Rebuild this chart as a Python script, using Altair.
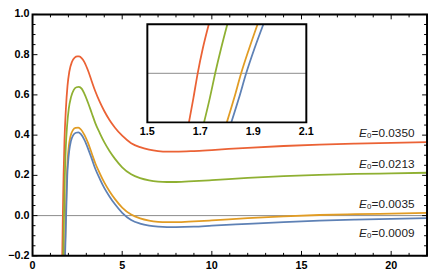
import altair as alt
import pandas as pd

# ---- data ----
series_names = ["E0=0.0350", "E0=0.0213", "E0=0.0035", "E0=0.0009"]
series_colors = ["#EB6235", "#8FB032", "#E19C24", "#5E81B5"]

red_x = [1.62, 1.657, 1.674, 1.69, 1.709, 1.732, 1.78, 1.86, 1.95, 2.05, 2.2, 2.35, 2.5, 2.6, 2.75, 2.9, 3.1,
         3.3, 3.5, 3.75, 4.0, 4.3, 4.6, 5.0, 5.5, 6.0, 6.5, 7.0, 7.5, 8.0, 9.0, 10, 12, 14, 16, 18, 20, 22]
red_y = [-0.45, -0.2, -0.1, 0.0, 0.1, 0.2, 0.37, 0.53, 0.645, 0.715, 0.765, 0.785, 0.791, 0.791, 0.782, 0.762,
         0.72, 0.668, 0.618, 0.565, 0.52, 0.474, 0.437, 0.397, 0.36, 0.34, 0.328, 0.321, 0.318, 0.318, 0.321,
         0.326, 0.337, 0.346, 0.353, 0.358, 0.362, 0.365]

green_x = [1.68, 1.714, 1.736, 1.756, 1.778, 1.802, 1.85, 1.93, 2.02, 2.15, 2.3, 2.45, 2.58, 2.75, 2.9, 3.1,
           3.3, 3.5, 3.75, 4.0, 4.3, 4.6, 5.0, 5.5, 6.0, 6.5, 7.0, 7.5, 8.0, 9.0, 10, 12, 14, 16, 18, 20, 22]
green_y = [-0.45, -0.2, -0.1, 0.0, 0.1, 0.2, 0.33, 0.45, 0.53, 0.59, 0.625, 0.638, 0.64, 0.63, 0.604, 0.56,
           0.51, 0.46, 0.41, 0.365, 0.32, 0.282, 0.24, 0.205, 0.186, 0.175, 0.169, 0.167, 0.167, 0.171, 0.176,
           0.187, 0.196, 0.203, 0.207, 0.21, 0.213]

orange_x = [1.76, 1.8, 1.828, 1.854, 1.884, 1.916, 1.96, 2.03, 2.12, 2.25, 2.4, 2.55, 2.7, 2.9, 3.1, 3.3, 3.5,
            3.75, 4.0, 4.3, 4.6, 5.0, 5.5, 6.0, 6.5, 7.0, 7.5, 8.0, 9.0, 10, 12, 14, 16, 18, 20, 22]
orange_y = [-0.45, -0.2, -0.1, 0.0, 0.1, 0.2, 0.28, 0.35, 0.395, 0.425, 0.436, 0.437, 0.428, 0.4, 0.36, 0.31,
            0.26, 0.21, 0.165, 0.12, 0.082, 0.04, 0.005, -0.014, -0.025, -0.031, -0.033, -0.033, -0.029,
            -0.024, -0.013, -0.004, 0.003, 0.007, 0.01, 0.013]

blue_x = [1.78, 1.817, 1.846, 1.873, 1.904, 1.938, 1.98, 2.05, 2.14, 2.27, 2.42, 2.56, 2.7, 2.9, 3.1, 3.3, 3.5,
          3.75, 4.0, 4.3, 4.6, 5.0, 5.5, 6.0, 6.5, 7.0, 7.5, 8.0, 9.0, 10, 12, 14, 16, 18, 20, 22]
blue_y = [-0.45, -0.2, -0.1, 0.0, 0.1, 0.2, 0.26, 0.325, 0.37, 0.4, 0.412, 0.414, 0.405, 0.375, 0.332, 0.283,
          0.233, 0.183, 0.138, 0.094, 0.056, 0.014, -0.022, -0.04, -0.05, -0.055, -0.057, -0.057, -0.055,
          -0.05, -0.041, -0.032, -0.025, -0.02, -0.016, -0.013]

x_major = [0, 5, 10, 15, 20]
x_major_labels = ["0", "5", "10", "15", "20"]
x_minor = [1, 2, 3, 4, 6, 7, 8, 9, 11, 12, 13, 14, 16, 17, 18, 19, 21]
y_major = [-0.2, 0.0, 0.2, 0.4, 0.6, 0.8, 1.0]
y_major_labels = ["\u22120.2", "0.0", "0.2", "0.4", "0.6", "0.8", "1.0"]
y_minor = [-0.15, -0.1, -0.05, 0.05, 0.1, 0.15, 0.25, 0.3, 0.35, 0.45, 0.5, 0.55, 0.65, 0.7, 0.75,
           0.85, 0.9, 0.95]
inset_ticks = [1.5, 1.7, 1.9, 2.1]
inset_tick_labels = ["1.5", "1.7", "1.9", "2.1"]

label_values = ["=0.0350", "=0.0213", "=0.0035", "=0.0009"]
label_x = [21.3, 21.3, 21.3, 21.3]
label_y = [0.408, 0.257, 0.057, -0.086]

# ---- build tables ----
rows = []
for name, xs, ys in zip(series_names, [red_x, green_x, orange_x, blue_x], [red_y, green_y, orange_y, blue_y]):
    rows += [{"series": name, "x": a, "y": b} for a, b in zip(xs, ys)]
df = pd.DataFrame(rows)

W, H = 402, 246
FONT = "Liberation Sans"
LW = 1.8

xs_main = alt.Scale(domain=[0, 22], nice=False, zero=False)
ys_main = alt.Scale(domain=[-0.2, 1.0], nice=False, zero=False)
color_scale = alt.Scale(domain=series_names, range=series_colors)

zero_line = alt.Chart(pd.DataFrame({"x": [0], "x2": [22], "y": [0.0]})).mark_rule(
    color="#8a8a8a", strokeWidth=1).encode(
    x=alt.X("x:Q", scale=xs_main, axis=None), x2="x2:Q",
    y=alt.Y("y:Q", scale=ys_main, axis=None))

curves = alt.Chart(df).mark_line(clip=True, strokeWidth=LW, interpolate="monotone").encode(
    x=alt.X("x:Q", scale=xs_main, axis=None),
    y=alt.Y("y:Q", scale=ys_main, axis=None),
    color=alt.Color("series:N", scale=color_scale, legend=None),
)

frame = alt.Chart(pd.DataFrame({"x": [0], "x2": [22], "y": [-0.2], "y2": [1.0]})).mark_rect(
    fillOpacity=0, stroke="black", strokeWidth=2).encode(
    x=alt.X("x:Q", scale=xs_main, axis=None), x2="x2:Q",
    y=alt.Y("y:Q", scale=ys_main, axis=None), y2="y2:Q")


def xticks(vals, length, top):
    d = pd.DataFrame({"x": vals})
    if top:
        yy, yy2 = alt.value(0), alt.value(length)
    else:
        yy, yy2 = alt.value(H), alt.value(H - length)
    return alt.Chart(d).mark_rule(color="black", strokeWidth=1).encode(
        x=alt.X("x:Q", scale=xs_main, axis=None), y=yy, y2=yy2)


def yticks(vals, length, right):
    d = pd.DataFrame({"y": vals})
    if right:
        xx, xx2 = alt.value(W), alt.value(W - length)
    else:
        xx, xx2 = alt.value(0), alt.value(length)
    return alt.Chart(d).mark_rule(color="black", strokeWidth=1).encode(
        y=alt.Y("y:Q", scale=ys_main, axis=None), x=xx, x2=xx2)


tick_layers = [xticks(x_major, 5, False), xticks(x_minor, 3, False),
               xticks(x_major, 5, True), xticks(x_minor, 3, True),
               yticks(y_major, 5, False), yticks(y_minor, 3, False),
               yticks(y_major, 5, True), yticks(y_minor, 3, True)]

xlab = alt.Chart(pd.DataFrame({"x": x_major, "t": x_major_labels})).mark_text(
    baseline="top", align="center", font=FONT, fontSize=11, fontWeight="bold", color="black").encode(
    x=alt.X("x:Q", scale=xs_main, axis=None), y=alt.value(H + 4), text="t:N")
ylab = alt.Chart(pd.DataFrame({"y": y_major, "t": y_major_labels})).mark_text(
    baseline="middle", align="right", font=FONT, fontSize=11, fontWeight="bold", color="black").encode(
    y=alt.Y("y:Q", scale=ys_main, axis=None), x=alt.value(-3), text="t:N")

lab_df = pd.DataFrame({"x": label_x, "y": label_y, "val": label_values,
                       "sub": ["0"] * 4, "E": ["E"] * 4})
lab_enc = dict(x=alt.X("x:Q", scale=xs_main, axis=None), y=alt.Y("y:Q", scale=ys_main, axis=None))
lab_val = alt.Chart(lab_df).mark_text(align="right", baseline="middle", font=FONT, fontSize=12,
                                      color="#222").encode(text="val:N", **lab_enc)
lab_sub = alt.Chart(lab_df).mark_text(align="right", baseline="middle", font=FONT, fontSize=8,
                                      dx=-44, dy=3, color="#222").encode(text="sub:N", **lab_enc)
lab_E = alt.Chart(lab_df).mark_text(align="right", baseline="middle", font=FONT, fontSize=12,
                                    fontStyle="italic", dx=-48.5, color="#222").encode(text="E:N", **lab_enc)

main = alt.layer(zero_line, curves, frame, *tick_layers, xlab, ylab, lab_val, lab_sub, lab_E)

# ---- inset ----
IN_L, IN_R, IN_T, IN_B = 117, 279, 10, 110
ins_x = alt.Scale(domain=[1.5, 2.1], range=[IN_L, IN_R], nice=False, zero=False)
ins_y = alt.Scale(domain=[-0.2, 0.2], range=[IN_B, IN_T], nice=False, zero=False)
box_df = pd.DataFrame({"x": [1.5], "x2": [2.1], "y": [-0.2], "y2": [0.2]})

inset_fill = alt.Chart(box_df).mark_rect(fill="white").encode(
    x=alt.X("x:Q", scale=ins_x, axis=None), x2="x2:Q",
    y=alt.Y("y:Q", scale=ins_y, axis=None), y2="y2:Q")
inset_zero = alt.Chart(pd.DataFrame({"x": [1.5], "x2": [2.1], "y": [0.0]})).mark_rule(
    color="#8a8a8a", strokeWidth=1).encode(
    x=alt.X("x:Q", scale=ins_x, axis=None), x2="x2:Q", y=alt.Y("y:Q", scale=ins_y, axis=None))
inset_curves = alt.Chart(df).transform_filter(
    (alt.datum.y >= -0.2) & (alt.datum.y <= 0.2) & (alt.datum.x <= 2.1)
).mark_line(strokeWidth=LW, interpolate="monotone").encode(
    x=alt.X("x:Q", scale=ins_x, axis=None), y=alt.Y("y:Q", scale=ins_y, axis=None),
    color=alt.Color("series:N", scale=color_scale, legend=None))
inset_frame = alt.Chart(box_df).mark_rect(fillOpacity=0, stroke="black", strokeWidth=2).encode(
    x=alt.X("x:Q", scale=ins_x, axis=None), x2="x2:Q",
    y=alt.Y("y:Q", scale=ins_y, axis=None), y2="y2:Q")
inset_lab = alt.Chart(pd.DataFrame({"x": inset_ticks, "t": inset_tick_labels})).mark_text(
    baseline="top", align="center", font=FONT, fontSize=11, fontWeight="bold", color="black").encode(
    x=alt.X("x:Q", scale=ins_x, axis=None), y=alt.value(IN_B + 4), text="t:N")

inset = alt.layer(inset_fill, inset_zero, inset_curves, inset_frame, inset_lab)

chart = alt.layer(main, inset).resolve_scale(x="independent", y="independent").properties(
    width=W, height=H,
    autosize=alt.AutoSizeParams(type="none"),
    padding={"left": 25, "top": 4, "right": 1, "bottom": 18},
).configure_view(strokeWidth=0)

chart.save("out.html", embed_options={"renderer": "svg", "actions": False})
